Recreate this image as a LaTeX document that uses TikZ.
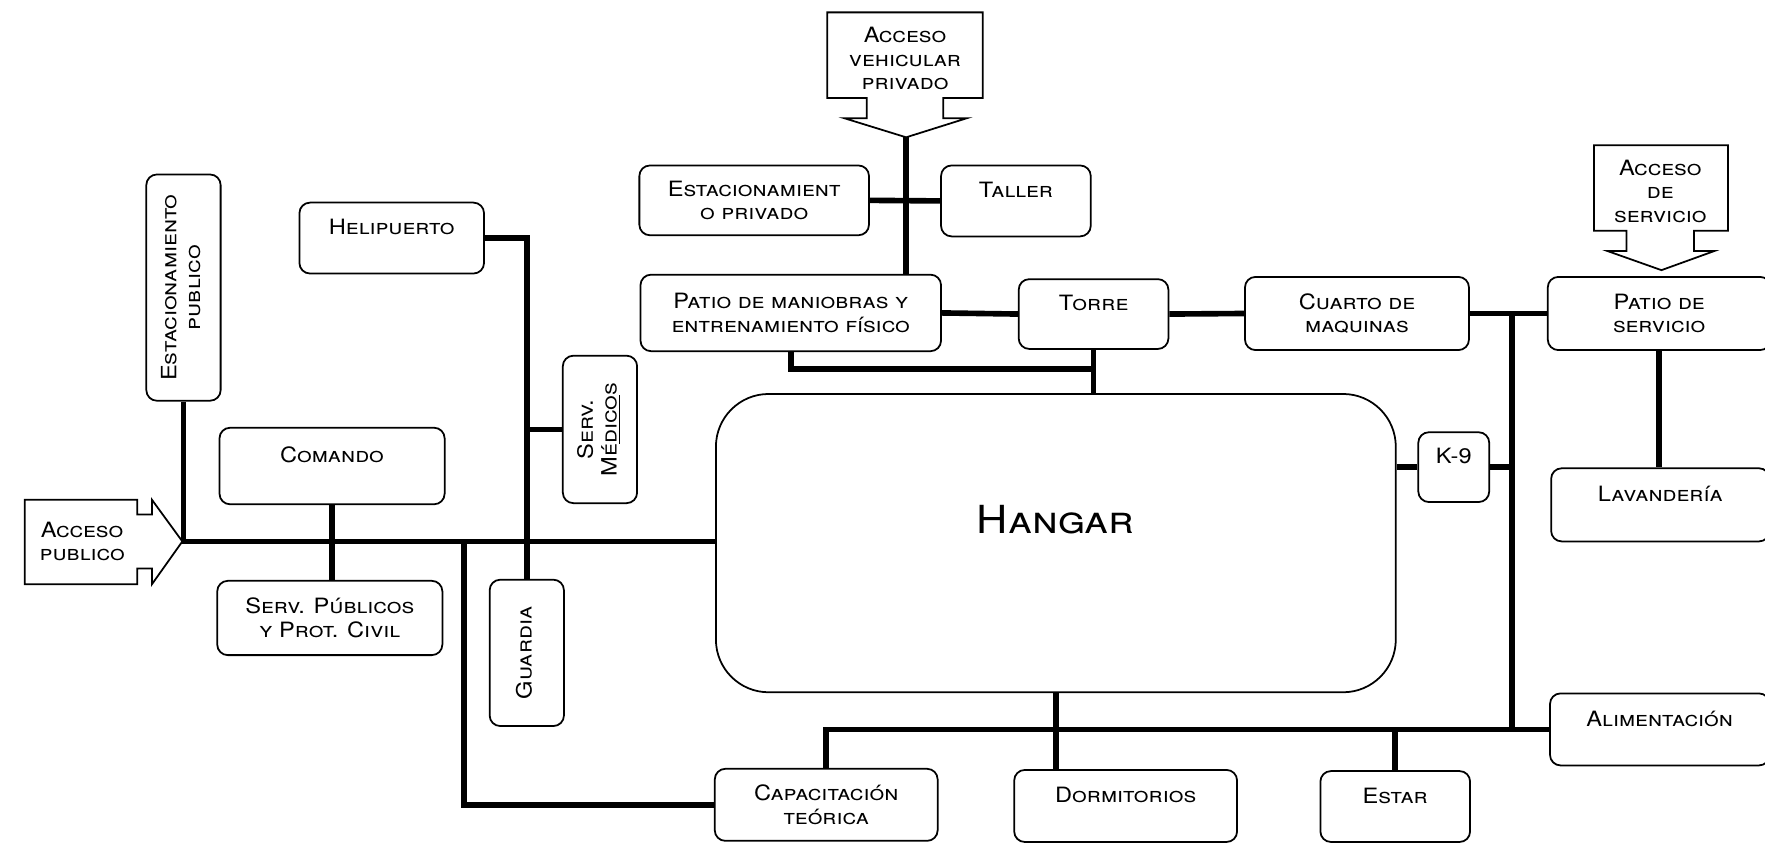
\documentclass[tikz,border=0pt]{standalone}
\usepackage{fontspec}
\usepackage{graphicx}
\setmainfont[FakeStretch=1.12]{TeX Gyre Heros}
\usetikzlibrary{calc}

\newcommand{\vtext}[1]{\rotatebox{90}{\begin{tabular}{@{}c@{}}#1\end{tabular}}}
\newcommand{\topline}[1]{#1\\[-5pt]\strut}
\tikzset{sz/.style n args={2}{minimum width=#1*0.0225cm, minimum height=#2*0.0225cm}}

\begin{document}
\begin{tikzpicture}[
  x=0.0225cm, y=-0.0225cm,
  font=\fontsize{12}{13.5}\selectfont\scshape,
  box/.style     = {draw, line width=1pt, rounded corners=6pt,
                    align=center, inner sep=0pt},
  link/.style    = {line width=3.2pt},
  callout/.style = {draw, line width=1pt, fill=white},
]
\useasboundingbox (0,0) rectangle (1568,749);

% access arrows
\draw[callout] (22,444) -- (122,444) -- (122,457) -- (135,457) -- (135,444)
  -- (162,481) -- (135,519) -- (135,505) -- (122,505) -- (122,519) -- (22,519) -- cycle;
\coordinate (ptip) at (162,481);
\node[align=center] (accpub) at (73,481) {Acceso\\publico};

\draw[callout] (735,11) -- (873,11) -- (873,87) -- (838,87) -- (838,105) -- (859,105)
  -- (805,122) -- (750,105) -- (770,105) -- (770,87) -- (735,87) -- cycle;
\coordinate (vtip) at (805,122);
\node[align=center] (accveh) at (804,52) {Acceso\\vehicular\\privado};

\draw[callout] (1416,129) -- (1535,129) -- (1535,205) -- (1505,205) -- (1505,223) -- (1523,223)
  -- (1476,240) -- (1428,223) -- (1445,223) -- (1445,205) -- (1416,205) -- cycle;
\node[align=center] (accserv) at (1475,170) {Acceso\\de\\servicio};

% rooms
\node[box, sz={66}{201}]  (estpub)  at (163,255.5) {\vtext{Estacionamiento\\publico}};
\node[box, sz={164}{63}]  (heli)    at (348,211.5) {\topline{Helipuerto}};
\node[box, sz={200}{68}]  (comando) at (295,414)   {\topline{Comando}};
\node[box, sz={66}{131}]  (servmed) at (533,381.5) {\vtext{Serv.\\Mé\underline{dico}s}};
\node[box, sz={200}{66}]  (servpub) at (293,549)   {Serv. Públicos\\y Prot. Civil};
\node[box, sz={66}{130}]  (guardia) at (468,580)   {\vtext{Guardia\\ }};
\node[box, sz={204}{62}]  (estpriv) at (670,178)   {Estacionamient\\o privado};
\node[box, sz={133}{63}]  (taller)  at (902.5,178.5) {\topline{Taller}};
\node[box, sz={267}{68}]  (patio)   at (702.5,278) {Patio de maniobras y\\entrenamiento físico};
\node[box, sz={133}{62}]  (torre)   at (971.5,279) {\topline{Torre}};
\node[box, sz={199}{65}]  (cuarto)  at (1205.5,278.5) {Cuarto de\\maquinas};
\node[box, sz={198}{65}]  (patserv) at (1474,278.5) {Patio de\\servicio};
\node[box, sz={63}{62}]   (k9)      at (1291.5,415) {\topline{K-9}};
\node[box, sz={194}{65}]  (lav)     at (1475,448.5) {\topline{Lavandería}};
\node[box, sz={195}{64}]  (alim)    at (1474.5,648) {\topline{Alimentación}};
\node[box, sz={133}{63}]  (estar)   at (1239.5,716.5) {\topline{Estar}};
\node[box, sz={198}{64}]  (dorm)    at (1000,716)  {\topline{Dormitorios}};
\node[box, sz={198}{64}]  (capac)   at (734,715)   {Capacitación\\teórica};
\node[box, sz={604}{265}, rounded corners=30pt,
      font=\fontsize{22}{28}\selectfont\scshape] (hangar) at (938,482.5) {Hangar\\[-9pt]\strut};

% links
\coordinate (jL) at (412,481);
\draw[link] (ptip) -- (ptip -| hangar.west);
\draw[link] (estpub.south) -- (estpub.south |- ptip);
\draw[link] (comando.south) -- (comando.south |- servpub.north);
\draw[link] (heli.east) -| (guardia.north);
\draw[link] (servmed.west) -- (servmed.west -| guardia.north);
\draw[link] (jL) |- (capac.west);

\draw[link] (vtip) -- (vtip |- patio.north);
\draw[link] (estpriv.east) -- (taller.west);
\draw[link] (patio.east) -- (torre.west);
\draw[link] (torre.east) -- (cuarto.west);
\draw[link] (cuarto.east) -- (patserv.west);
\draw[link] (torre.south) -- (torre.south |- hangar.north);
\draw[link] (patio.south) |- ($(torre.south)!0.45!(torre.south |- hangar.north)$);
\draw[link] (patserv.south) -- (patserv.south |- lav.north);

\coordinate (busR) at ($(cuarto.east)!0.55!(patserv.west)$);
\draw[link] (busR) -- (busR |- alim.west);
\draw[link] (hangar.east |- k9.west) -- (k9.west);
\draw[link] (k9.east) -- (k9.east -| busR);
\draw[link] (capac.north) |- (alim.west);
\draw[link] (hangar.south) -- (hangar.south |- dorm.north);
\draw[link] (estar.north) -- (estar.north |- alim.west);
\end{tikzpicture}
\end{document}
